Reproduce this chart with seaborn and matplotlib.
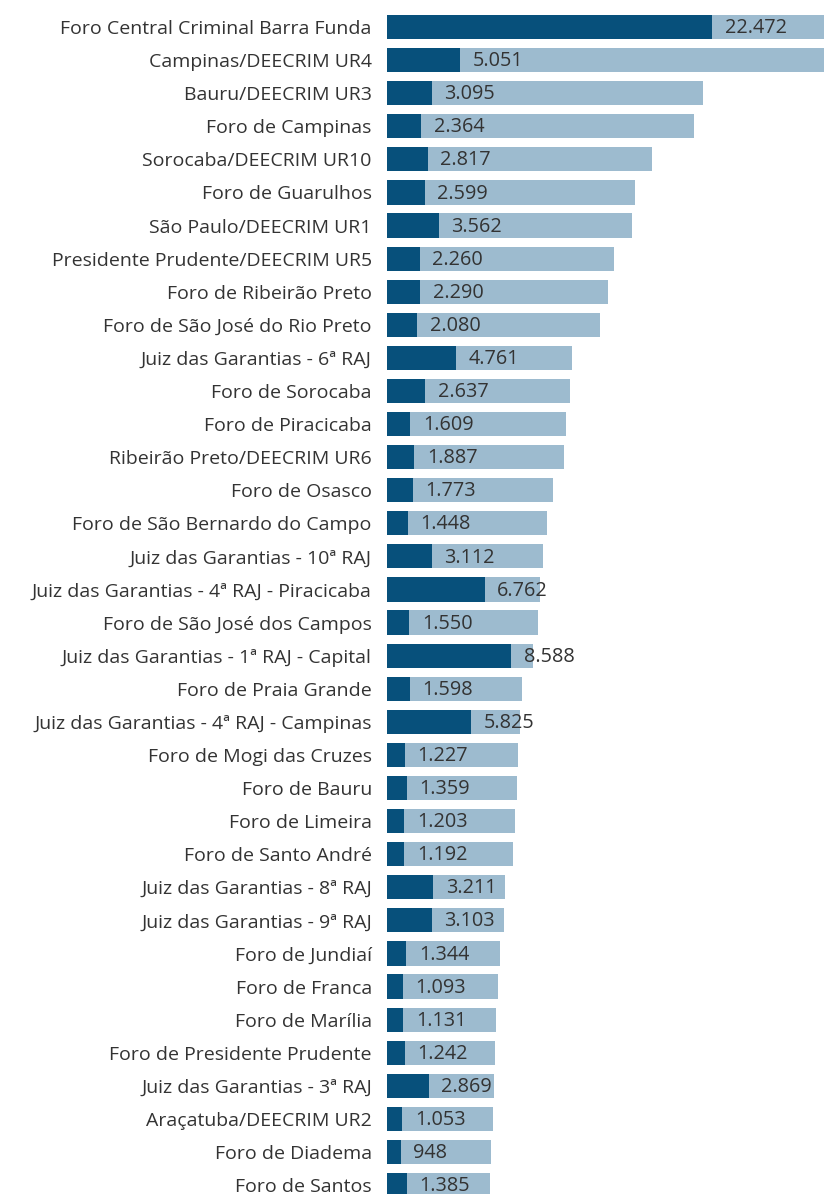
import numpy as np
import pandas as pd
import seaborn as sns
import matplotlib.pyplot as plt

# dados por local
locais = ["Foro Central Criminal Barra Funda", "Campinas/DEECRIM UR4", "Bauru/DEECRIM UR3",
          "Foro de Campinas", "Sorocaba/DEECRIM UR10", "Foro de Guarulhos", "São Paulo/DEECRIM UR1",
          "Presidente Prudente/DEECRIM UR5", "Foro de Ribeirão Preto", "Foro de São José do Rio Preto",
          "Juiz das Garantias - 6ª RAJ", "Foro de Sorocaba", "Foro de Piracicaba",
          "Ribeirão Preto/DEECRIM UR6", "Foro de Osasco", "Foro de São Bernardo do Campo",
          "Juiz das Garantias - 10ª RAJ", "Juiz das Garantias - 4ª RAJ - Piracicaba",
          "Foro de São José dos Campos", "Juiz das Garantias - 1ª RAJ - Capital", "Foro de Praia Grande",
          "Juiz das Garantias - 4ª RAJ - Campinas", "Foro de Mogi das Cruzes", "Foro de Bauru",
          "Foro de Limeira", "Foro de Santo André", "Juiz das Garantias - 8ª RAJ",
          "Juiz das Garantias - 9ª RAJ", "Foro de Jundiaí", "Foro de Franca", "Foro de Marília",
          "Foro de Presidente Prudente", "Juiz das Garantias - 3ª RAJ", "Araçatuba/DEECRIM UR2",
          "Foro de Diadema", "Foro de Santos"]
destaque = [22472, 5051, 3095, 2364, 2817, 2599, 3562, 2260, 2290, 2080, 4761, 2637, 1609, 1887,
            1773, 1448, 3112, 6762, 1550, 8588, 1598, 5825, 1227, 1359, 1203, 1192, 3211, 3103,
            1344, 1093, 1131, 1242, 2869, 1053, 948, 1385]
total = [31500, 30300, 21850, 21200, 18300, 17150, 16900, 15700, 15300, 14700, 12800, 12650,
         12400, 12200, 11500, 11050, 10800, 10600, 10400, 10100, 9350, 9200, 9050, 9000, 8850,
         8700, 8150, 8100, 7800, 7700, 7550, 7450, 7400, 7300, 7200, 7100]

df = pd.DataFrame({"local": locais, "destaque": destaque, "total": total})

sns.set_style("white")
plt.rcParams['font.family'] = ['Open Sans', 'DejaVu Sans']

fig = plt.figure(figsize=(8.24, 11.94), dpi=100)
ax = fig.add_axes([0.4697, 0, 0.5303, 1])

sns.barplot(data=df, x="total", y="local", color="#9dbbcf", width=0.73, saturation=1,
            linewidth=0, ax=ax)
sns.barplot(data=df, x="destaque", y="local", color="#07507b", width=0.73, saturation=1,
            linewidth=0, ax=ax)

for i, v in enumerate(destaque):
    txt = f"{v:,}".replace(",", ".")
    ax.annotate(txt, (v, i), xytext=(9, -0.8), textcoords="offset points",
                va="center", ha="left", fontsize=14.3, color="#333333")

ax.set_xlim(0, 30200)
ax.set_ylim(35.27, -0.816)
ax.set_xlabel("")
ax.set_ylabel("")
ax.set_xticks([])
ax.tick_params(axis="y", length=0, pad=11, labelsize=14, labelcolor="#333333")
sns.despine(ax=ax, left=True, bottom=True)

plt.savefig("out.png", dpi=100)
